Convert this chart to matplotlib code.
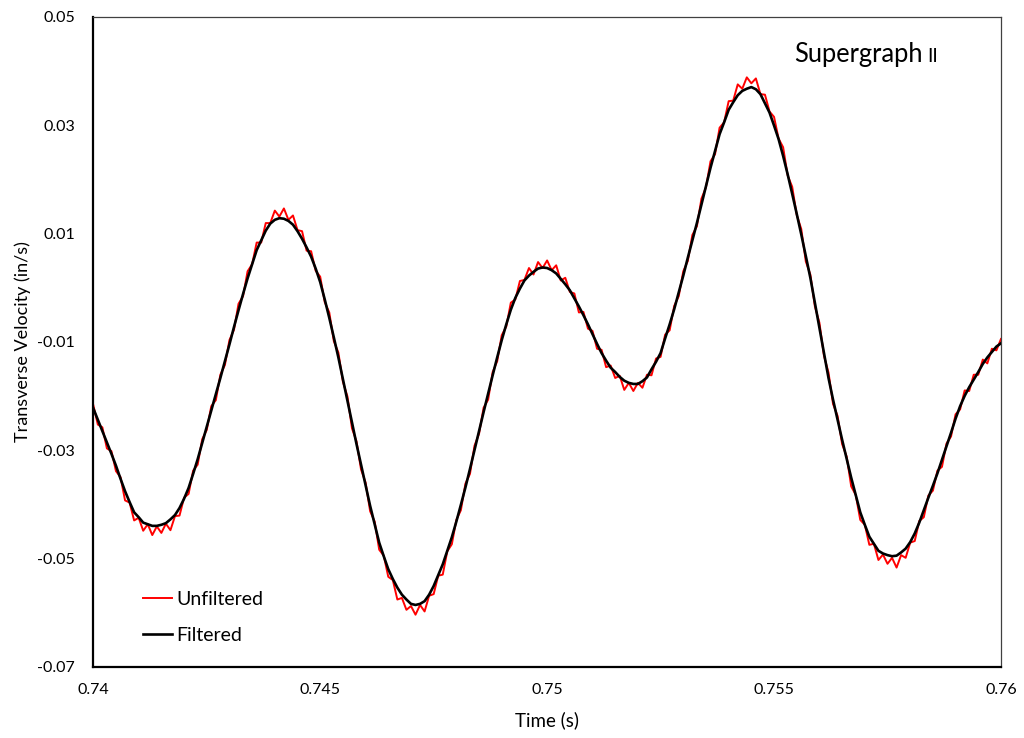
import numpy as np
import matplotlib
matplotlib.use("Agg")
import matplotlib.pyplot as plt

# time base: 0.74 s to 0.76 s, sampled every 0.1 ms
time_s = np.linspace(0.74, 0.76, 201)

unfiltered = [
    -0.0217, -0.0253, -0.0258, -0.0297, -0.0302, -0.0339, -0.0350, -0.0393, -0.0397, -0.0430,
    -0.0425, -0.0449, -0.0437, -0.0457, -0.0441, -0.0453, -0.0436, -0.0448, -0.0422, -0.0421,
    -0.0388, -0.0381, -0.0338, -0.0327, -0.0280, -0.0263, -0.0219, -0.0208, -0.0161, -0.0143,
    -0.0097, -0.0078, -0.0030, -0.0016, 0.0030, 0.0043, 0.0083, 0.0083, 0.0119, 0.0119,
    0.0142, 0.0131, 0.0146, 0.0125, 0.0133, 0.0106, 0.0104, 0.0068, 0.0067, 0.0031,
    0.0020, -0.0027, -0.0046, -0.0099, -0.0120, -0.0174, -0.0201, -0.0260, -0.0284, -0.0336,
    -0.0360, -0.0413, -0.0432, -0.0484, -0.0495, -0.0534, -0.0540, -0.0576, -0.0573, -0.0595,
    -0.0588, -0.0604, -0.0586, -0.0598, -0.0569, -0.0566, -0.0532, -0.0530, -0.0487, -0.0474,
    -0.0429, -0.0411, -0.0362, -0.0344, -0.0292, -0.0270, -0.0222, -0.0207, -0.0156, -0.0136,
    -0.0088, -0.0072, -0.0028, -0.0022, 0.0012, 0.0014, 0.0036, 0.0024, 0.0047, 0.0036,
    0.0050, 0.0032, 0.0041, 0.0013, 0.0018, -0.0008, -0.0011, -0.0046, -0.0045, -0.0076,
    -0.0080, -0.0113, -0.0115, -0.0147, -0.0144, -0.0167, -0.0163, -0.0189, -0.0176, -0.0191,
    -0.0176, -0.0185, -0.0161, -0.0162, -0.0131, -0.0128, -0.0087, -0.0079, -0.0034, -0.0016,
    0.0030, 0.0049, 0.0097, 0.0113, 0.0164, 0.0185, 0.0233, 0.0246, 0.0295, 0.0305,
    0.0344, 0.0345, 0.0375, 0.0367, 0.0388, 0.0377, 0.0386, 0.0357, 0.0356, 0.0325,
    0.0315, 0.0275, 0.0259, 0.0207, 0.0186, 0.0134, 0.0108, 0.0048, 0.0024, -0.0035,
    -0.0065, -0.0126, -0.0157, -0.0215, -0.0237, -0.0289, -0.0312, -0.0367, -0.0383, -0.0429,
    -0.0438, -0.0475, -0.0473, -0.0503, -0.0493, -0.0510, -0.0499, -0.0517, -0.0494, -0.0499,
    -0.0471, -0.0468, -0.0431, -0.0424, -0.0384, -0.0375, -0.0338, -0.0331, -0.0288, -0.0275,
    -0.0234, -0.0225, -0.0190, -0.0191, -0.0161, -0.0161, -0.0133, -0.0140, -0.0113, -0.0116,
    -0.0095,
]

filtered = [
    -0.0223, -0.0244, -0.0265, -0.0286, -0.0307, -0.0329, -0.0353, -0.0376, -0.0396, -0.0415,
    -0.0424, -0.0434, -0.0437, -0.0440, -0.0440, -0.0438, -0.0435, -0.0428, -0.0420, -0.0407,
    -0.0390, -0.0370, -0.0344, -0.0317, -0.0287, -0.0257, -0.0227, -0.0197, -0.0167, -0.0136,
    -0.0105, -0.0073, -0.0042, -0.0012, 0.0017, 0.0043, 0.0069, 0.0087, 0.0105, 0.0118,
    0.0125, 0.0128, 0.0127, 0.0123, 0.0116, 0.0104, 0.0090, 0.0074, 0.0057, 0.0035,
    0.0010, -0.0022, -0.0056, -0.0092, -0.0129, -0.0169, -0.0209, -0.0249, -0.0289, -0.0327,
    -0.0365, -0.0403, -0.0437, -0.0471, -0.0496, -0.0520, -0.0538, -0.0554, -0.0567, -0.0576,
    -0.0584, -0.0586, -0.0584, -0.0579, -0.0567, -0.0551, -0.0531, -0.0511, -0.0486, -0.0461,
    -0.0432, -0.0401, -0.0369, -0.0335, -0.0300, -0.0265, -0.0230, -0.0196, -0.0162, -0.0129,
    -0.0097, -0.0068, -0.0041, -0.0019, -0.0002, 0.0013, 0.0022, 0.0029, 0.0035, 0.0037,
    0.0036, 0.0032, 0.0026, 0.0016, 0.0006, -0.0005, -0.0020, -0.0035, -0.0051, -0.0068,
    -0.0086, -0.0104, -0.0121, -0.0135, -0.0148, -0.0156, -0.0165, -0.0172, -0.0176, -0.0178,
    -0.0178, -0.0173, -0.0166, -0.0151, -0.0137, -0.0121, -0.0094, -0.0068, -0.0040, -0.0009,
    0.0022, 0.0055, 0.0087, 0.0119, 0.0153, 0.0187, 0.0221, 0.0252, 0.0283, 0.0305,
    0.0328, 0.0342, 0.0355, 0.0363, 0.0367, 0.0370, 0.0366, 0.0357, 0.0340, 0.0323,
    0.0299, 0.0274, 0.0243, 0.0209, 0.0173, 0.0136, 0.0098, 0.0058, 0.0018, -0.0028,
    -0.0073, -0.0120, -0.0167, -0.0207, -0.0244, -0.0281, -0.0316, -0.0351, -0.0383, -0.0415,
    -0.0438, -0.0460, -0.0473, -0.0486, -0.0491, -0.0494, -0.0496, -0.0495, -0.0489, -0.0482,
    -0.0470, -0.0454, -0.0434, -0.0411, -0.0388, -0.0366, -0.0343, -0.0318, -0.0293, -0.0268,
    -0.0242, -0.0219, -0.0200, -0.0184, -0.0170, -0.0156, -0.0141, -0.0129, -0.0119, -0.0109,
    -0.0103,
]

x_ticks = [0.74, 0.745, 0.75, 0.755, 0.76]
x_tick_labels = ["0.74", "0.745", "0.75", "0.755", "0.76"]
y_ticks = [-0.07, -0.05, -0.03, -0.01, 0.01, 0.03, 0.05]
y_tick_labels = ["-0.07", "-0.05", "-0.03", "-0.01", "0.01", "0.03", "0.05"]

plt.rcParams["font.family"] = ["Lato", "DejaVu Sans"]

fig = plt.figure(figsize=(10.24, 7.38), dpi=100)
ax = fig.add_axes([0.0911, 0.0966, 0.8864, 0.8808])

ax.plot(time_s, unfiltered, color="#ff0000", lw=1.4, label="Unfiltered", zorder=2)
ax.plot(time_s, filtered, color="black", lw=1.9, label="Filtered", zorder=3)

ax.set_xlim(0.74, 0.76)
ax.set_ylim(-0.07, 0.05)
ax.set_xticks(x_ticks)
ax.set_xticklabels(x_tick_labels)
ax.set_yticks(y_ticks)
ax.set_yticklabels(y_tick_labels)
ax.tick_params(axis="both", length=0, labelsize=11.5, colors="black")
ax.tick_params(axis="x", pad=12)
ax.tick_params(axis="y", pad=13)

for side in ("left", "bottom"):
    ax.spines[side].set_linewidth(1.6)
    ax.spines[side].set_color("black")
for side in ("top", "right"):
    ax.spines[side].set_linewidth(0.9)
    ax.spines[side].set_color("#404040")

ax.set_xlabel("Time (s)", fontsize=13.5, labelpad=10)
ax.set_ylabel("Transverse Velocity (in/s)", fontsize=13, labelpad=5)

ax.text(0.75544, 0.0417, "Supergraph", fontsize=18.4, va="baseline", ha="left")
ax.text(0.75838, 0.0417, "II", fontsize=14, va="baseline", ha="left")

ax.legend(loc="lower left", bbox_to_anchor=(0.0548, 0.035), frameon=False,
          fontsize=14, handlelength=1.5, handletextpad=0.2, labelspacing=1.0,
          borderpad=0, borderaxespad=0)

fig.savefig("out.png", dpi=100)
